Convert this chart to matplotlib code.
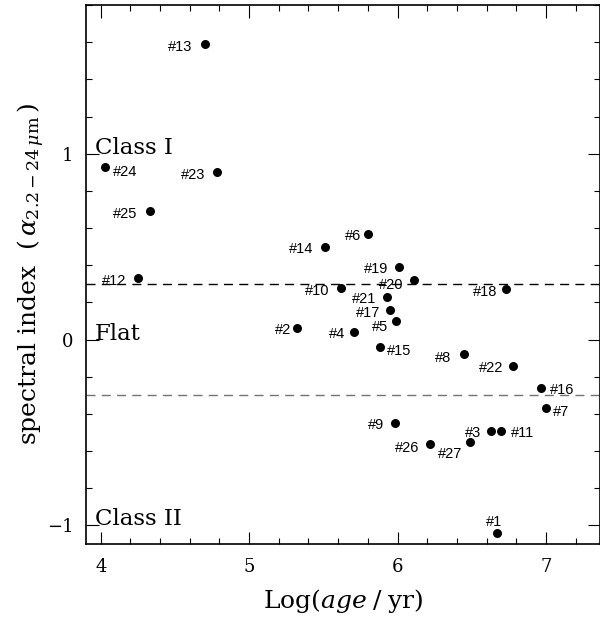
import numpy as np
import matplotlib
matplotlib.use('Agg')
import matplotlib.pyplot as plt
from matplotlib.ticker import MultipleLocator

# log age and 2.2-24 micron spectral index for each source
names = ['#1', '#2', '#3', '#4', '#5', '#6', '#7', '#8', '#9', '#10',
         '#11', '#12', '#13', '#14', '#15', '#16', '#17', '#18', '#19', '#20',
         '#21', '#22', '#23', '#24', '#25', '#26', '#27']
log_age = [6.67, 5.32, 6.63, 5.71, 5.99, 5.80, 7.00, 6.45, 5.98, 5.62,
           6.70, 4.25, 4.70, 5.51, 5.88, 6.97, 5.95, 6.73, 6.01, 6.11,
           5.93, 6.78, 4.78, 4.03, 4.33, 6.22, 6.49]
alpha = [-1.04, 0.06, -0.49, 0.04, 0.10, 0.57, -0.37, -0.08, -0.45, 0.28,
         -0.49, 0.33, 1.59, 0.50, -0.04, -0.26, 0.16, 0.27, 0.39, 0.32,
         0.23, -0.14, 0.90, 0.93, 0.69, -0.56, -0.55]

# label placement (offset in points, horizontal alignment)
offsets = {
    '#1': (-2, 9, 'center'), '#2': (-4, 0, 'right'), '#3': (-7, -1, 'right'),
    '#4': (-6.7, 0, 'right'), '#5': (-5.3, -3.4, 'right'), '#6': (-4.5, -0.7, 'right'),
    '#7': (5.3, -1.4, 'left'), '#8': (-9.6, -1.4, 'right'), '#9': (-7.4, 0, 'right'),
    '#10': (-8.2, -1.4, 'right'), '#11': (6.8, -1, 'left'), '#12': (-8.4, -0.7, 'right'),
    '#13': (-8.9, -1, 'right'), '#14': (-8.6, -0.7, 'right'), '#15': (5, -2, 'left'),
    '#16': (6.3, -0.5, 'left'), '#17': (-7.2, -1.4, 'right'), '#18': (-6.3, -0.7, 'right'),
    '#19': (-7.9, 0, 'right'), '#20': (-7.2, -2.2, 'right'), '#21': (-8.1, -0.7, 'right'),
    '#22': (-7.2, -1, 'right'), '#23': (-7.9, -1, 'right'), '#24': (5.8, -2.4, 'left'),
    '#25': (-9.1, -1, 'right'), '#26': (-8.1, -2, 'right'), '#27': (-6, -7.4, 'right'),
}

plt.rcParams['font.family'] = 'DejaVu Serif'
plt.rcParams['mathtext.fontset'] = 'dejavuserif'

fig = plt.figure(figsize=(6.0, 6.28), dpi=100)
ax = fig.add_axes([0.1433, 0.1338, 0.8567, 0.8582])

ax.scatter(log_age, alpha, s=42, color='black', zorder=3, linewidths=0)
for n, x, y in zip(names, log_age, alpha):
    dx, dy, ha = offsets[n]
    ax.annotate(n, (x, y), xytext=(dx, dy), textcoords='offset points',
                ha=ha, va='center_baseline', fontsize=10.5, family='Liberation Sans')

# class boundaries
ax.axhline(0.3, color='black', lw=1, dashes=(6.5, 4.5))
ax.axhline(-0.3, color='0.45', lw=1, dashes=(6.5, 4.5))

ax.text(3.962, 1.0, 'Class I', fontsize=16.5, va='baseline')
ax.text(3.962, 0.0, 'Flat', fontsize=16.5, va='baseline')
ax.text(3.962, -1.0, 'Class II', fontsize=16.5, va='baseline')

ax.set_xlim(3.9, 7.365)
ax.set_ylim(-1.1, 1.8)
ax.xaxis.set_major_locator(MultipleLocator(1))
ax.xaxis.set_minor_locator(MultipleLocator(0.2))
ax.yaxis.set_major_locator(MultipleLocator(1))
ax.yaxis.set_minor_locator(MultipleLocator(0.2))
ax.tick_params(which='both', direction='in', top=True, right=True, labelsize=13)
ax.tick_params(which='major', length=9, width=0.8)
ax.tick_params(which='minor', length=4.5, width=0.8)
ax.tick_params(axis='x', pad=10)
ax.tick_params(axis='y', pad=9)
ax.set_yticks([-1, 0, 1], ['\u22121', '0', '1'])
for s in ax.spines.values():
    s.set_linewidth(1.2)

ax.set_xlabel(r'Log$(\mathit{age}\;/\;\mathrm{yr})$', fontsize=18, labelpad=8)
ax.set_ylabel(r'spectral index  $(\,\alpha_{2.2-24\,\mu\mathrm{m}}\,)$', fontsize=18, labelpad=0)

fig.savefig('out.png', dpi=100)
